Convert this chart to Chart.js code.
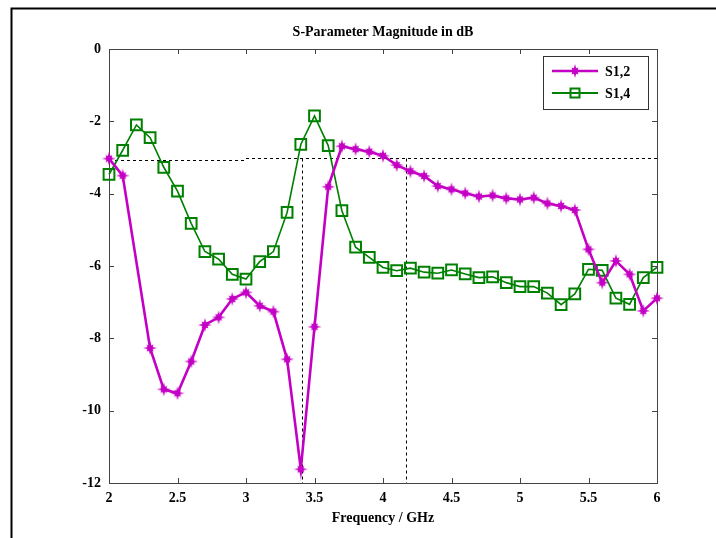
<!DOCTYPE html>
<html>
<head>
<meta charset="utf-8">
<script src="https://cdn.jsdelivr.net/npm/chart.js@4/dist/chart.umd.min.js"></script>
<style>
html,body{margin:0;padding:0;background:#fff;}
canvas{display:block;}
</style>
</head>
<body>
<canvas id="c" width="716" height="538"></canvas>
<script>
const freq = [2.0,2.1,2.2,2.3,2.4,2.5,2.6,2.7,2.8,2.9,3.0,3.1,3.2,3.3,3.4,3.5,3.6,3.7,3.8,3.9,4.0,4.1,4.2,4.3,4.4,4.5,4.6,4.7,4.8,4.9,5.0,5.1,5.2,5.3,5.4,5.5,5.6,5.7,5.8,5.9,6.0];
const s12 = [-3.03,-3.50,null,-8.27,-9.41,-9.52,-8.64,-7.63,-7.42,-6.91,-6.73,-7.10,-7.26,-8.58,-11.62,-7.68,-3.81,-2.69,-2.77,-2.84,-2.95,-3.21,-3.38,-3.51,-3.79,-3.88,-3.99,-4.08,-4.05,-4.13,-4.16,-4.11,-4.27,-4.34,-4.45,-5.54,-6.46,-5.86,-6.23,-7.24,-6.89];
const s14 = [-3.47,-2.80,-2.10,-2.45,-3.27,-3.93,-4.82,-5.60,-5.81,-6.23,-6.36,-5.88,-5.60,-4.52,-2.64,-1.85,-2.67,-4.47,-5.48,-5.76,-6.04,-6.13,-6.06,-6.17,-6.20,-6.11,-6.22,-6.32,-6.30,-6.46,-6.57,-6.57,-6.75,-7.07,-6.77,-6.09,-6.12,-6.89,-7.06,-6.32,-6.04];
const seriesNames = ['S1,2','S1,4'];
const xTicks = [2,2.5,3,3.5,4,4.5,5,5.5,6];
const xTickLabels = ['2','2.5','3','3.5','4','4.5','5','5.5','6'];
const yTicks = [0,-2,-4,-6,-8,-10,-12];
// -3 dB reference marks: horizontal level and the two crossing frequencies
const refLevelLeft = -3.06, refLevelRight = -3.02, refSplit = 3.0;
const refFreqs = [3.412, 4.169];

const MAG = '#c400c4', GRN = '#008000';
const FONT = 'bold 14px "Liberation Serif", "DejaVu Serif", serif';

function starCanvas(color){
  const c = document.createElement('canvas');
  c.width = 16; c.height = 16;
  const g = c.getContext('2d');
  g.fillStyle = color;
  g.beginPath();
  const cx=8, cy=8;
  for (let k=0;k<16;k++){
    const a = k*Math.PI/8 - Math.PI/2;
    let r;
    if (k%2===1) r = 2.9; else if (k%4===0) r = 7.0; else r = 4.8;
    const px = cx + r*Math.cos(a), py = cy + r*Math.sin(a);
    if (k===0) g.moveTo(px,py); else g.lineTo(px,py);
  }
  g.closePath(); g.fill();
  return c;
}
const starImg = starCanvas(MAG);

const decor = {
  id:'decor',
  beforeDraw(chart){
    const ctx = chart.ctx;
    ctx.save();
    ctx.fillStyle = '#fff';
    ctx.fillRect(0,0,chart.width,chart.height);
    // page frame
    ctx.strokeStyle = '#000';
    ctx.lineWidth = 2;
    ctx.beginPath();
    ctx.moveTo(11.5, 538); ctx.lineTo(11.5, 8.5); ctx.lineTo(716, 8.5);
    ctx.stroke();
    // title
    ctx.fillStyle = '#000';
    ctx.font = FONT;
    ctx.textAlign = 'center'; ctx.textBaseline = 'middle';
    const a = chart.chartArea;
    ctx.fillText('S-Parameter Magnitude in dB', (a.left+a.right)/2, 32);
    ctx.restore();
  },
  beforeDatasetsDraw(chart){
    const ctx = chart.ctx, x = chart.scales.x, y = chart.scales.y, a = chart.chartArea;
    ctx.save();
    // axes box
    ctx.strokeStyle = '#444';
    ctx.lineWidth = 1;
    ctx.strokeRect(Math.round(a.left)+0.5, Math.round(a.top)+0.5, Math.round(a.right-a.left), Math.round(a.bottom-a.top));
    ctx.beginPath();
    xTicks.forEach(v=>{
      const px = Math.round(x.getPixelForValue(v))+0.5;
      ctx.moveTo(px,a.top); ctx.lineTo(px,a.top+5);
      ctx.moveTo(px,a.bottom); ctx.lineTo(px,a.bottom-5);
    });
    yTicks.forEach(v=>{
      const py = Math.round(y.getPixelForValue(v))+0.5;
      ctx.moveTo(a.left,py); ctx.lineTo(a.left+5,py);
      ctx.moveTo(a.right,py); ctx.lineTo(a.right-5,py);
    });
    ctx.stroke();
    // dashed reference lines
    ctx.strokeStyle = '#000';
    ctx.setLineDash([3,3]);
    ctx.beginPath();
    let py1 = Math.round(y.getPixelForValue(refLevelLeft))+0.5;
    let py2 = Math.round(y.getPixelForValue(refLevelRight))+0.5;
    ctx.moveTo(x.getPixelForValue(2), py1); ctx.lineTo(x.getPixelForValue(refSplit), py1);
    ctx.moveTo(x.getPixelForValue(refSplit), py2); ctx.lineTo(x.getPixelForValue(6), py2);
    refFreqs.forEach(f=>{
      const px = Math.round(x.getPixelForValue(f))+0.5;
      ctx.moveTo(px, py2); ctx.lineTo(px, a.bottom);
    });
    ctx.stroke();
    ctx.restore();
  },
  afterDraw(chart){
    const ctx = chart.ctx;
    ctx.save();
    // legend box
    const L=543.5, T=56.5, W=105, H=53;
    ctx.fillStyle='#fff';
    ctx.fillRect(L,T,W,H);
    ctx.strokeStyle='#333'; ctx.lineWidth=1;
    ctx.strokeRect(L,T,W,H);
    const rows=[{y:71,c:MAG,t:seriesNames[0]},{y:93,c:GRN,t:seriesNames[1]}];
    rows.forEach((r,i)=>{
      ctx.strokeStyle=r.c; ctx.lineWidth = i===0?2.4:1.8;
      ctx.beginPath(); ctx.moveTo(552,r.y); ctx.lineTo(598,r.y); ctx.stroke();
      if(i===0){ ctx.drawImage(starImg, 575-8, r.y-8); }
      else { ctx.lineWidth=2; ctx.strokeRect(575-4.5, r.y-4.5, 9, 9); }
      ctx.fillStyle='#000'; ctx.font=FONT; ctx.textAlign='left'; ctx.textBaseline='middle';
      ctx.fillText(r.t, 605, r.y+1);
    });
    ctx.restore();
  }
};

new Chart(document.getElementById('c'), {
  type:'line',
  data:{
    datasets:[
      { label: seriesNames[0], data: freq.map((f,i)=>({x:f,y:s12[i]})),
        borderColor: MAG, borderWidth: 2.6, pointStyle: starImg, pointRadius: 7,
        pointHoverRadius: 7, spanGaps:true, clip:false, tension:0, fill:false },
      { label: seriesNames[1], data: freq.map((f,i)=>({x:f,y:s14[i]})),
        borderColor: GRN, borderWidth: 1.6, pointStyle:'rect', pointRadius: 7.6,
        pointBorderWidth: 2, pointBackgroundColor:'rgba(0,0,0,0)', pointBorderColor: GRN,
        pointHoverRadius: 7.6, clip:false, tension:0, fill:false }
    ]
  },
  options:{
    responsive:false, animation:false, devicePixelRatio:1,
    layout:{ padding:{ left:0, top:49, right:59, bottom:0 } },
    plugins:{ legend:{display:false}, title:{display:false}, tooltip:{enabled:false} },
    events:[],
    scales:{
      x:{ type:'linear', min:2, max:6,
        grid:{display:false, drawTicks:false}, border:{display:false},
        afterBuildTicks(s){ s.ticks = xTicks.map(v=>({value:v})); },
        ticks:{ color:'#000', font:{family:'"Liberation Serif", serif', size:14, weight:'bold'}, padding:7, maxRotation:0, autoSkip:false,
          callback(v){ const i = xTicks.indexOf(v); return i>=0 ? xTickLabels[i] : ''; } },
        title:{ display:true, text:'Frequency / GHz', color:'#000', font:{family:'"Liberation Serif", serif', size:14, weight:'bold'}, padding:{top:0,bottom:11} },
        afterFit(s){ s.height = 55; }
      },
      y:{ type:'linear', min:-12, max:0,
        grid:{display:false, drawTicks:false}, border:{display:false},
        ticks:{ stepSize:2, color:'#000', font:{family:'"Liberation Serif", serif', size:14, weight:'bold'}, padding:8 },
        afterFit(s){ s.width = 109; }
      }
    }
  },
  plugins:[decor]
});
</script>
</body>
</html>
